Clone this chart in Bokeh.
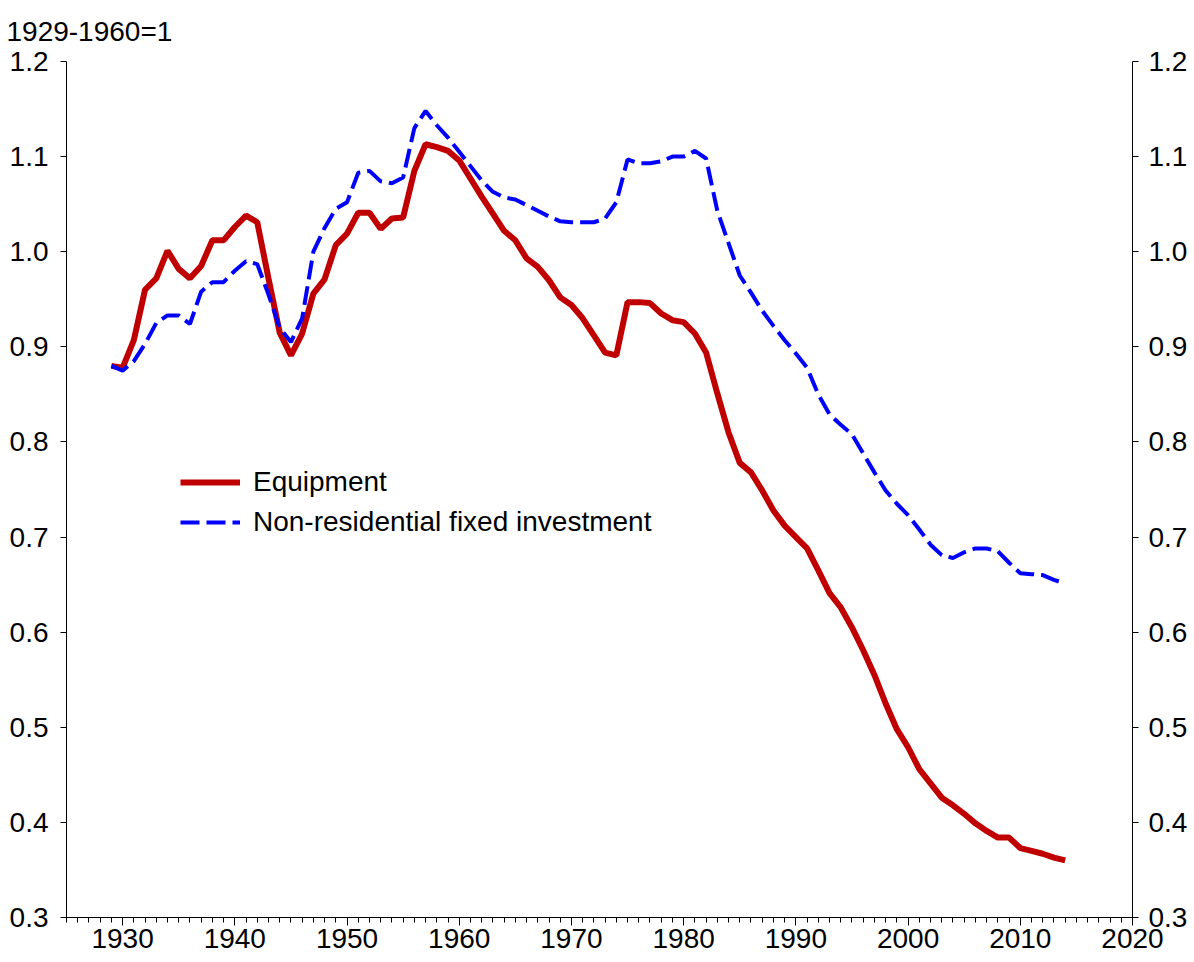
from bokeh.plotting import figure
from bokeh.models import (Range1d, LinearAxis, SingleIntervalTicker, FixedTicker,
                          PrintfTickFormatter, Legend, LegendItem, ColumnDataSource)
from bokeh.embed import file_html
from bokeh.resources import INLINE

years = list(range(1929, 2015))
equipment = [
    0.880, 0.878, 0.907, 0.960, 0.972, 1.001, 0.982, 0.972, 0.985, 1.012,
    1.012, 1.026, 1.038, 1.031, 0.972, 0.915, 0.891, 0.914, 0.956, 0.971,
    1.007, 1.019, 1.041, 1.041, 1.024, 1.035, 1.036, 1.085, 1.113, 1.110,
    1.106, 1.096, 1.077, 1.058, 1.040, 1.022, 1.012, 0.993, 0.984, 0.970,
    0.952, 0.944, 0.930, 0.912, 0.894, 0.891, 0.947, 0.947, 0.946, 0.935,
    0.928, 0.926, 0.914, 0.894, 0.851, 0.810, 0.778, 0.768, 0.749, 0.728,
    0.712, 0.700, 0.688, 0.665, 0.641, 0.626, 0.605, 0.581, 0.555, 0.525,
    0.498, 0.479, 0.456, 0.441, 0.426, 0.418, 0.409, 0.399, 0.391, 0.384,
    0.384, 0.373, 0.370, 0.367, 0.363, 0.360,
]
nonres = [
    0.880, 0.875, 0.885, 0.903, 0.925, 0.933, 0.933, 0.924, 0.958, 0.968,
    0.968, 0.980, 0.990, 0.987, 0.955, 0.920, 0.905, 0.930, 1.000, 1.025,
    1.045, 1.052, 1.083, 1.085, 1.074, 1.072, 1.078, 1.130, 1.148, 1.133,
    1.120, 1.105, 1.090, 1.075, 1.063, 1.057, 1.055, 1.049, 1.043, 1.037,
    1.032, 1.031, 1.031, 1.031, 1.035, 1.052, 1.097, 1.093, 1.093, 1.095,
    1.100, 1.100, 1.106, 1.098, 1.043, 1.009, 0.975, 0.957, 0.938, 0.922,
    0.907, 0.893, 0.878, 0.850, 0.829, 0.818, 0.808, 0.788, 0.768, 0.749,
    0.735, 0.723, 0.708, 0.692, 0.681, 0.678, 0.684, 0.688, 0.688, 0.685,
    0.673, 0.662, 0.661, 0.660, 0.655, 0.651,
]
y_ticks = [0.3, 0.4, 0.5, 0.6, 0.7, 0.8, 0.9, 1.0, 1.1, 1.2]
title_text = "1929-1960=1"
labels = ["Equipment", "Non-residential fixed investment"]

FONT = "Liberation Sans"
FS = "28px"

src = ColumnDataSource(dict(year=years, eq=equipment, nr=nonres))

W, H = 1190, 960
p = figure(width=W, height=H, output_backend="svg", toolbar_location=None,
           x_range=Range1d(1925, 2020), y_range=Range1d(0.3, 1.2),
           min_border_left=66, min_border_right=W - 1133, min_border_top=61,
           min_border_bottom=H - 917, x_axis_location=None, y_axis_location=None)
p.outline_line_color = None
p.grid.visible = False
p.background_fill_color = "white"
p.border_fill_color = "white"

p.title.text = title_text
p.title.text_font = FONT
p.title.text_font_size = FS
p.title.text_font_style = "normal"
p.title.text_color = "black"
p.title.align = "left"
p.title.vertical_align = "top"
p.title.offset = -60
p.title.standoff = 26

def style_axis(ax):
    ax.axis_line_color = "black"
    ax.axis_line_width = 1
    ax.major_tick_line_color = "black"
    ax.minor_tick_line_color = "black"
    ax.major_tick_in = 0
    ax.minor_tick_in = 0
    ax.major_label_text_font = FONT
    ax.major_label_text_font_size = FS
    ax.major_label_text_color = "black"

xaxis = LinearAxis(ticker=SingleIntervalTicker(interval=10, num_minor_ticks=10))
style_axis(xaxis)
xaxis.major_tick_out = 8
xaxis.minor_tick_out = 5
xaxis.major_label_standoff = 3
p.add_layout(xaxis, "below")

for side, standoff in (("left", 12), ("right", 10)):
    ax = LinearAxis(ticker=FixedTicker(ticks=y_ticks),
                    formatter=PrintfTickFormatter(format="%.1f"))
    style_axis(ax)
    ax.major_tick_out = 6
    ax.minor_tick_out = 0
    ax.major_label_standoff = standoff
    p.add_layout(ax, side)

r_eq = p.line("year", "eq", source=src, line_color="#C00000", line_width=6)
r_nr = p.line("year", "nr", source=src, line_color="#0000FF", line_width=4,
              line_dash="19 7")

legend = Legend(items=[LegendItem(label=labels[0], renderers=[r_eq]),
                       LegendItem(label=labels[1], renderers=[r_nr])],
                location=(114, 379))
legend.border_line_color = None
legend.background_fill_alpha = 0
legend.padding = 0
legend.margin = 0
legend.spacing = 8
legend.glyph_width = 60
legend.glyph_height = 30
legend.label_height = 30
legend.label_standoff = 13
legend.label_text_font = FONT
legend.label_text_font_size = FS
legend.label_text_color = "black"
legend.label_text_baseline = "middle"
p.add_layout(legend, "center")

open("out.html", "w").write(file_html(p, INLINE))
